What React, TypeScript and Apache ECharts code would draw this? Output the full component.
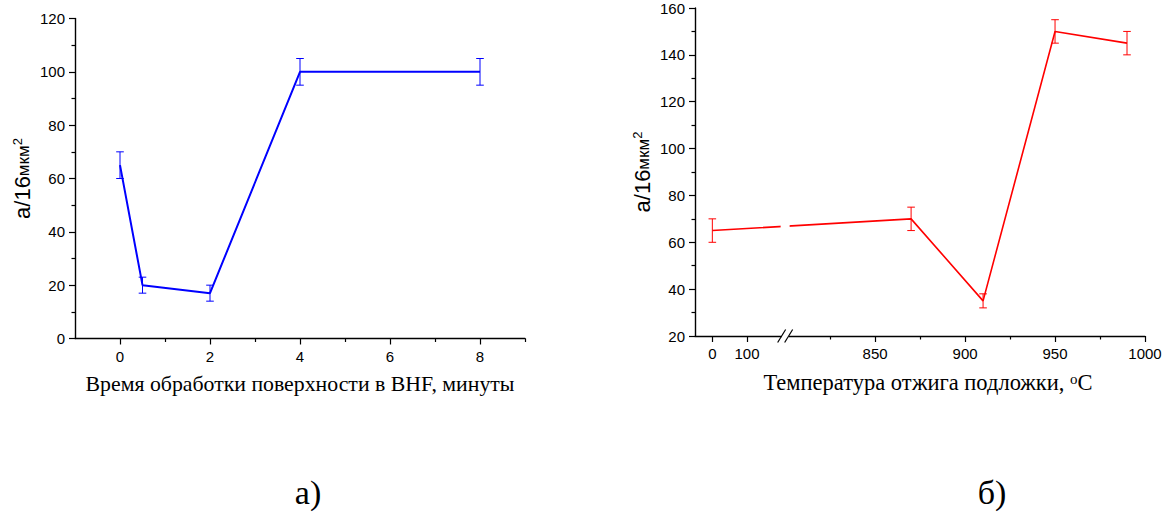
import React, { useEffect, useRef } from "react";
import * as echarts from "echarts";

// а) surface treatment time in BHF, minutes
const leftTimes = [0, 0.5, 2, 4, 8];
const leftDensity = [65, 20, 17, 100, 100];
const leftError = [5, 3, 3, 5, 5];
const leftMajorTicks = [0, 2, 4, 6, 8];
const leftMinorTicks = [1, 3, 5, 7, 9];

// б) substrate annealing temperature, °C
const rightTemps = [0, 870, 910, 950, 990];
const rightDensity = [65, 70, 35, 150, 145];
const rightError = [5, 5, 3, 5, 5];
const rightMajorTicks = [0, 100, 850, 900, 950, 1000];
const rightMinorTicks = [825, 875, 925, 975];

// broken temperature axis: [-50..210] compressed, [800..1000] at full scale
const BREAK_LOW = 210;
const BREAK_HIGH = 800;
const LOW_SCALE = 0.1927;
const toAxis = (t: number) => (t >= BREAK_HIGH ? t : BREAK_HIGH - (BREAK_LOW - t) * LOW_SCALE);
const fromAxis = (u: number) => (u >= BREAK_HIGH ? u : BREAK_LOW - (BREAK_HIGH - u) / LOW_SCALE);

const SANS = "Liberation Sans";
const SERIF = "Liberation Serif";
const BLUE = "#0000ff";
const RED = "#ff0000";

const errorBars = (color: string) => (params: any, api: any) => {
  const x = api.value(0);
  const y = api.value(1);
  const e = api.value(2);
  const top = api.coord([x, y + e]);
  const bot = api.coord([x, y - e]);
  const h = 3.8;
  const style = { stroke: color, lineWidth: 1 };
  return {
    type: "group",
    children: [
      { type: "line", shape: { x1: top[0], y1: top[1], x2: bot[0], y2: bot[1] }, style },
      { type: "line", shape: { x1: top[0] - h, y1: top[1], x2: top[0] + h, y2: top[1] }, style },
      { type: "line", shape: { x1: bot[0] - h, y1: bot[1], x2: bot[0] + h, y2: bot[1] }, style },
    ],
  };
};

const axisLine = { show: true, onZero: false, lineStyle: { color: "#000", width: 1.4 } };
const tickLabel = { color: "#000", fontFamily: SANS, fontSize: 15 };

const yName = (gap: number) => ({
  name: "{a|а/16}{b|мкм}{c|2}",
  nameLocation: "middle" as const,
  nameRotate: 90,
  nameGap: gap,
  nameTextStyle: {
    color: "#000",
    rich: {
      a: { fontFamily: SANS, fontSize: 22, color: "#000", verticalAlign: "bottom" },
      b: { fontFamily: SANS, fontSize: 17, color: "#000", verticalAlign: "bottom", padding: [0, 0, 1, 0] },
      c: { fontFamily: SANS, fontSize: 13, color: "#000", verticalAlign: "top" },
    },
  },
});

export default function App() {
  const ref = useRef<HTMLDivElement>(null);

  useEffect(() => {
    if (!ref.current) return;
    const chart = echarts.init(ref.current, null, { renderer: "svg" });

    const option: any = {
      animation: false,
      backgroundColor: "#fff",
      grid: [
        { left: 75, top: 18.5, width: 450, height: 320 },
        { left: 695, top: 8, width: 450, height: 328 },
      ],
      xAxis: [
        {
          type: "value",
          gridIndex: 0,
          min: -1,
          max: 9,
          position: "bottom",
          axisLine,
          axisTick: { show: true, customValues: leftMajorTicks, length: 6, lineStyle: { color: "#000", width: 1.2 } },
          axisLabel: { ...tickLabel, customValues: leftMajorTicks, margin: 10 },
          splitLine: { show: false },
          name: "Время обработки поверхности в BHF, минуты",
          nameLocation: "middle",
          nameGap: 34,
          nameTextStyle: { color: "#000", fontFamily: SERIF, fontSize: 21.8 },
        },
        {
          type: "value",
          gridIndex: 0,
          min: -1,
          max: 9,
          position: "bottom",
          axisLine: { show: false, onZero: false },
          axisTick: { show: true, customValues: leftMinorTicks, length: 3.5, lineStyle: { color: "#000", width: 1.2 } },
          axisLabel: { show: false },
          splitLine: { show: false },
        },
        {
          type: "value",
          gridIndex: 1,
          min: toAxis(-50),
          max: 1000,
          position: "bottom",
          axisLine,
          axisTick: {
            show: true,
            customValues: rightMajorTicks.map(toAxis),
            length: 6,
            lineStyle: { color: "#000", width: 1.2 },
          },
          axisLabel: {
            ...tickLabel,
            customValues: rightMajorTicks.map(toAxis),
            margin: 10,
            formatter: (v: number) => String(Math.round(fromAxis(v))),
          },
          splitLine: { show: false },
          name: "Температура отжига подложки, {sup|o}C",
          nameLocation: "middle",
          nameGap: 35,
          nameTextStyle: {
            color: "#000",
            fontFamily: SERIF,
            fontSize: 22.5,
            padding: [0, 0, 0, 16],
            rich: { sup: { fontFamily: SERIF, fontSize: 15, color: "#000", verticalAlign: "top" } },
          },
        },
        {
          type: "value",
          gridIndex: 1,
          min: toAxis(-50),
          max: 1000,
          position: "bottom",
          axisLine: { show: false, onZero: false },
          axisTick: { show: true, customValues: rightMinorTicks, length: 3.5, lineStyle: { color: "#000", width: 1.2 } },
          axisLabel: { show: false },
          splitLine: { show: false },
        },
      ],
      yAxis: [
        {
          type: "value",
          gridIndex: 0,
          min: 0,
          max: 120,
          interval: 20,
          axisLine,
          axisTick: { show: true, length: 6, lineStyle: { color: "#000", width: 1.2 } },
          minorTick: { show: true, splitNumber: 2, length: 3.5, lineStyle: { color: "#000", width: 1.2 } },
          axisLabel: { ...tickLabel, margin: 10 },
          splitLine: { show: false },
          minorSplitLine: { show: false },
          ...yName(42),
        },
        {
          type: "value",
          gridIndex: 1,
          min: 20,
          max: 160,
          interval: 20,
          axisLine,
          axisTick: { show: true, length: 6, lineStyle: { color: "#000", width: 1.2 } },
          minorTick: { show: true, splitNumber: 2, length: 3.5, lineStyle: { color: "#000", width: 1.2 } },
          axisLabel: { ...tickLabel, margin: 10 },
          splitLine: { show: false },
          minorSplitLine: { show: false },
          ...yName(42),
        },
      ],
      series: [
        {
          type: "line",
          xAxisIndex: 0,
          yAxisIndex: 0,
          data: leftTimes.map((t, i) => [t, leftDensity[i]]),
          symbol: "none",
          lineStyle: { color: BLUE, width: 2 },
          z: 3,
        },
        {
          type: "custom",
          xAxisIndex: 0,
          yAxisIndex: 0,
          data: leftTimes.map((t, i) => [t, leftDensity[i], leftError[i]]),
          encode: { x: 0, y: 1 },
          renderItem: errorBars(BLUE),
          z: 4,
        },
        {
          type: "line",
          xAxisIndex: 2,
          yAxisIndex: 1,
          data: rightTemps.map((t, i) => [toAxis(t), rightDensity[i]]),
          symbol: "none",
          lineStyle: { color: RED, width: 1.6 },
          z: 3,
        },
        {
          type: "custom",
          xAxisIndex: 2,
          yAxisIndex: 1,
          data: rightTemps.map((t, i) => [toAxis(t), rightDensity[i], rightError[i]]),
          encode: { x: 0, y: 1 },
          renderItem: errorBars(RED),
          z: 4,
        },
      ],
    };

    chart.setOption(option);

    // axis-break decoration: gap in the curve and "//" on the temperature axis
    const [cx, axisY] = chart.convertToPixel({ gridIndex: 1 }, [BREAK_HIGH, 20]) as number[];
    const [, gapTop] = chart.convertToPixel({ gridIndex: 1 }, [BREAK_HIGH, 76]) as number[];
    const [, gapBot] = chart.convertToPixel({ gridIndex: 1 }, [BREAK_HIGH, 58]) as number[];
    const slash = (d: number) => ({
      type: "line",
      z: 101,
      shape: { x1: cx + d - 4, y1: axisY + 6.5, x2: cx + d + 4, y2: axisY - 6.5 },
      style: { stroke: "#000", lineWidth: 1.2 },
    });

    chart.setOption({
      graphic: [
        { type: "rect", z: 100, shape: { x: cx - 4.5, y: gapTop, width: 9, height: gapBot - gapTop }, style: { fill: "#fff" } },
        { type: "rect", z: 100, shape: { x: cx - 3.5, y: axisY - 2, width: 7, height: 4 }, style: { fill: "#fff" } },
        slash(-3.5),
        slash(3.5),
        {
          type: "text",
          x: 308,
          y: 492,
          style: { text: "а)", fontFamily: SERIF, fontSize: 34, fill: "#000", align: "center", verticalAlign: "middle" },
        },
        {
          type: "text",
          x: 992,
          y: 492,
          style: { text: "б)", fontFamily: SERIF, fontSize: 34, fill: "#000", align: "center", verticalAlign: "middle" },
        },
      ],
    });

    return () => chart.dispose();
  }, []);

  return (
    <div
      ref={ref}
      style={{ position: "fixed", left: 0, top: 0, width: 1170, height: 512, background: "#fff" }}
    />
  );
}
